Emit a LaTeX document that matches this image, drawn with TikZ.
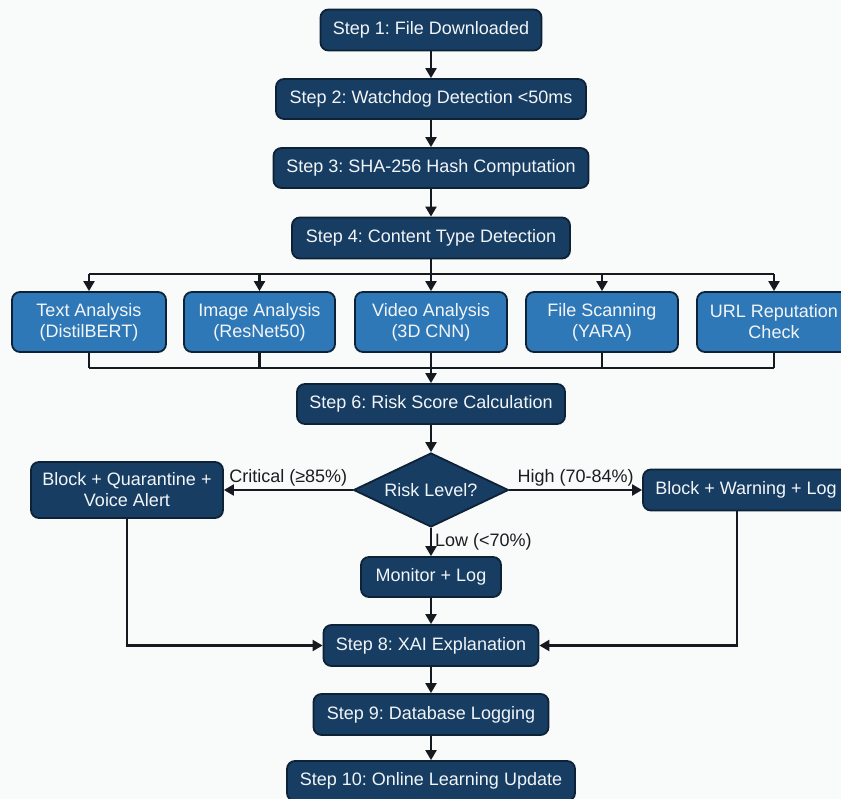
\documentclass[tikz,border=0pt]{standalone}
\usepackage{fontspec}
\setmainfont{Liberation Sans}
\usetikzlibrary{shapes.geometric,arrows.meta,calc}
\definecolor{navy}{HTML}{173D63}
\definecolor{lblue}{HTML}{2F78B7}
\definecolor{edgec}{HTML}{0E2237}
\definecolor{linec}{HTML}{151A20}
\definecolor{txtc}{HTML}{F2F5F8}
\definecolor{labc}{HTML}{1A1D22}
\definecolor{bgc}{HTML}{F9FAFA}
\frenchspacing
\begin{document}
\begin{tikzpicture}[x=1pt,y=-1pt,
  base/.style={draw=edgec, line width=1.8pt, text=txtc, font=\fontsize{18}{21}\selectfont, align=center, inner sep=0pt},
  dark/.style={base, rounded corners=8pt, fill=navy},
  bluebox/.style={base, rounded corners=8pt, fill=lblue, minimum width=152pt, minimum height=60pt},
  decision/.style={base, diamond, fill=navy, aspect=2},
  conn/.style={draw=linec, line width=2.2pt},
  arr/.style={conn, -{Triangle[length=10pt,width=11pt]}},
  lab/.style={font=\fontsize{18}{21}\selectfont, text=labc, inner sep=1pt}]
\path[use as bounding box, fill=bgc] (0,0) rectangle (841,799);

\node[dark, minimum width=221pt, minimum height=41pt] (s1) at (431,30) {Step 1: File Downloaded};
\node[dark, minimum width=310pt, minimum height=40pt] (s2) at (431,99) {Step 2: Watchdog Detection <50ms};
\node[dark, minimum width=315pt, minimum height=40pt] (s3) at (431,168) {Step 3: SHA-256 Hash Computation};
\node[dark, minimum width=278pt, minimum height=41pt] (s4) at (431,238) {Step 4: Content Type Detection};

\node[bluebox, minimum width=154pt] (text) at (89,322) {Text Analysis\\(DistilBERT)};
\node[bluebox, minimum width=151pt] (image) at (259.5,322) {Image Analysis\\(ResNet50)};
\node[bluebox] (video) at (431,322) {Video Analysis\\(3D CNN)};
\node[bluebox] (file) at (602,322) {File Scanning\\(YARA)};
\node[bluebox, minimum width=154pt] (url) at (774,322) {URL Reputation\\Check};

\node[dark, minimum width=268pt, minimum height=40pt] (s6) at (431,404) {Step 6: Risk Score Calculation};
\node[decision, minimum width=155pt, minimum height=74pt] (dia) at (431,490) {Risk Level?};
\node[dark, minimum width=192pt, minimum height=56pt] (crit) at (127,490) {Block + Quarantine +\\Voice Alert};
\node[dark, minimum width=206pt, minimum height=41pt] (warn) at (746,490) {Block + Warning + Log};
\node[dark, minimum width=140pt, minimum height=40pt] (mon) at (431,577) {Monitor + Log};

\node[dark, minimum width=215pt, minimum height=41pt] (s8) at (431,645.5) {Step 8: XAI Explanation};
\node[dark, minimum width=235pt, minimum height=41pt] (s9) at (431,714.5) {Step 9: Database Logging};
\node[dark, minimum width=288pt, minimum height=40pt] (s10) at (431,781) {Step 10: Online Learning Update};

\coordinate (sp) at (431,274);
\coordinate (mg) at (431,368);
\coordinate (wr) at (737,0);

\draw[arr] (s1) -- (s2);
\draw[arr] (s2) -- (s3);
\draw[arr] (s3) -- (s4);
\draw[conn] (s4) -- (sp);
\draw[conn] (text.north |- sp) -- (url.north |- sp);
\foreach \n in {text,image,video,file,url} {
  \draw[arr] (\n.north |- sp) -- (\n.north);
  \draw[conn] (\n.south) -- (\n.south |- mg);
}
\draw[conn] (text.south |- mg) -- (url.south |- mg);
\draw[arr] (mg) -- (s6);
\draw[arr] (s6) -- (dia);
\draw[arr] (dia.west) -- node[lab, above=2pt] {Critical (≥85\%)} (crit.east);
\draw[arr] (dia.east) -- node[lab, above=2pt] {High (70-84\%)} (warn.west);
\draw[arr] (dia.south) -- node[lab, right=2pt] {Low (<70\%)} (mon.north);
\draw[arr] (crit.south) |- (s8.west);
\draw[arr] (warn.south -| wr) |- (s8.east);
\draw[arr] (mon) -- (s8);
\draw[arr] (s8) -- (s9);
\draw[arr] (s9) -- (s10);
\end{tikzpicture}
\end{document}
